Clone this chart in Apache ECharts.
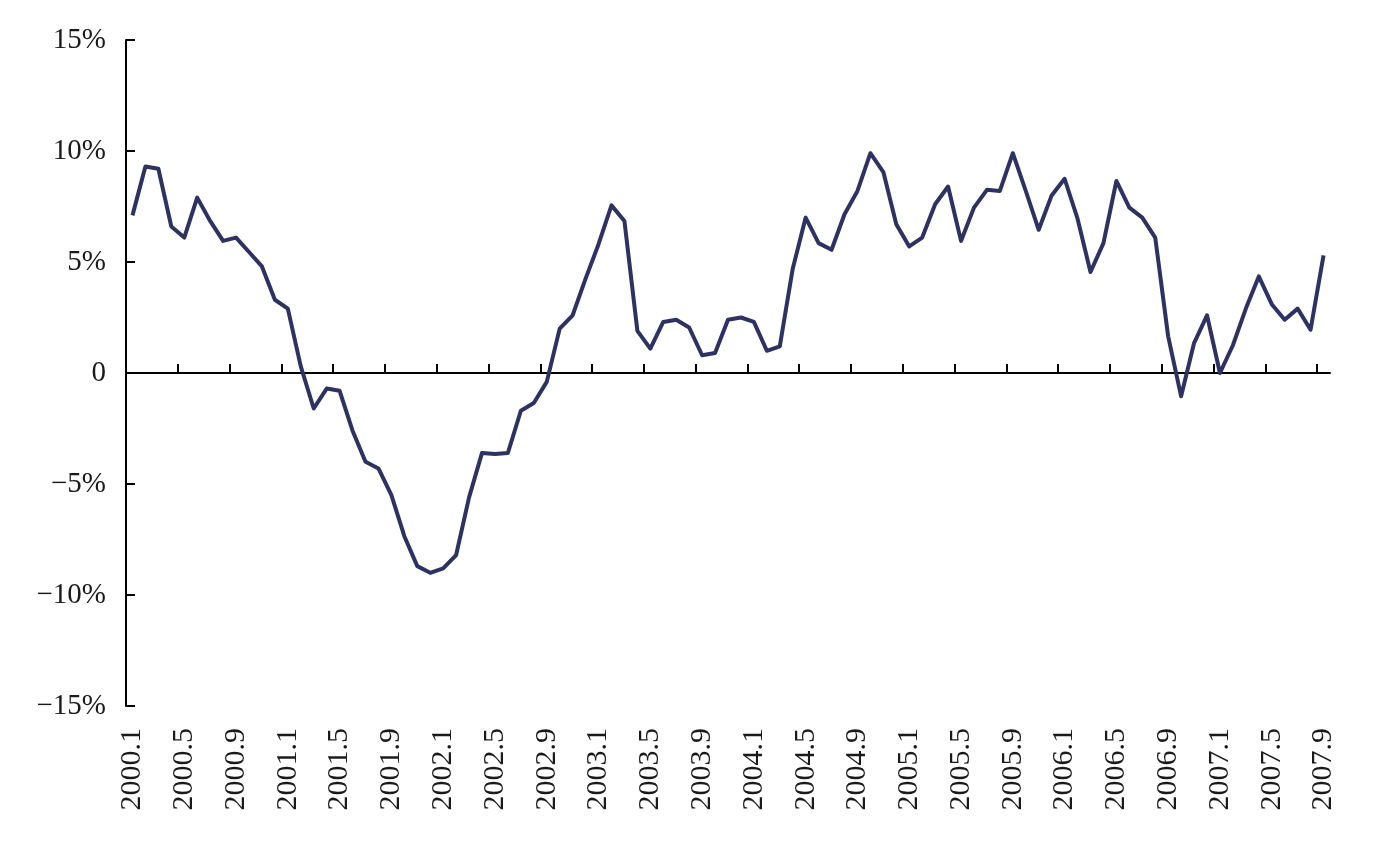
<!DOCTYPE html>
<html>
<head>
<meta charset="utf-8">
<script src="https://cdn.jsdelivr.net/npm/echarts@6/dist/echarts.min.js"></script>
<style>
html,body{margin:0;padding:0;background:#fff;}
#chart{width:1382px;height:845px;}
</style>
</head>
<body>
<div id="chart"></div>
<script>
// Monthly categories 2000.1 – 2007.9
const startYear = 2000;
const monthCount = 93;
const categories = [];
for (let i = 0; i < monthCount; i++) {
  categories.push((startYear + Math.floor(i / 12)) + '.' + (i % 12 + 1));
}
// Band boundaries between months (used only to place the axis tick marks)
const boundaries = [];
for (let i = 0; i <= monthCount; i++) boundaries.push('b' + i);

// Growth rate (%)
const values = [
  7.1, 9.3, 9.2, 6.6, 6.1, 7.9, 6.85, 5.95, 6.1, 5.45, 4.8, 3.3,
  2.9, 0.3, -1.6, -0.7, -0.8, -2.6, -4.0, -4.3, -5.5, -7.35, -8.7, -9.0,
  -8.8, -8.2, -5.6, -3.6, -3.65, -3.6, -1.7, -1.35, -0.4, 2.0, 2.6, 4.25,
  5.8, 7.55, 6.85, 1.9, 1.1, 2.3, 2.4, 2.05, 0.8, 0.9, 2.4, 2.5,
  2.3, 1.0, 1.2, 4.7, 7.0, 5.85, 5.55, 7.15, 8.2, 9.9, 9.05, 6.7,
  5.7, 6.1, 7.6, 8.4, 5.95, 7.45, 8.25, 8.2, 9.9, 8.2, 6.45, 8.0,
  8.75, 6.95, 4.55, 5.85, 8.65, 7.45, 7.0, 6.1, 1.65, -1.05, 1.35, 2.6,
  0.0, 1.25, 2.9, 4.35, 3.1, 2.4, 2.9, 1.95, 5.3
];
const yTicks = [-15, -10, -5, 0, 5, 10, 15];

const font = '"Liberation Serif", "Times New Roman", serif';
const chart = echarts.init(document.getElementById('chart'));
chart.setOption({
  animation: false,
  backgroundColor: '#ffffff',
  grid: { left: 126, right: 52, top: 40, bottom: 139, containLabel: false },
  xAxis: [
    {
      type: 'category',
      data: categories,
      boundaryGap: true,
      position: 'bottom',
      axisLine: { show: false, onZero: false },
      axisTick: { show: false },
      axisLabel: {
        show: true, interval: 3, rotate: 90, margin: 22,
        fontFamily: font, fontSize: 30, color: '#1a1a1a'
      },
      splitLine: { show: false }
    },
    {
      type: 'category',
      data: boundaries,
      boundaryGap: false,
      position: 'bottom',
      axisLine: { show: true, onZero: true, lineStyle: { color: '#000', width: 2 } },
      axisTick: { show: true, inside: true, length: 9, interval: 3, lineStyle: { color: '#000', width: 2 } },
      axisLabel: { show: false },
      splitLine: { show: false }
    }
  ],
  yAxis: {
    type: 'value',
    min: yTicks[0],
    max: yTicks[yTicks.length - 1],
    interval: 5,
    axisLine: { show: true, lineStyle: { color: '#000', width: 2 } },
    axisTick: { show: true, inside: true, length: 9, lineStyle: { color: '#000', width: 2 } },
    axisLabel: {
      margin: 20, fontFamily: font, fontSize: 29, color: '#1a1a1a',
      formatter: function (v) {
        if (v === 0) return '0';
        return (v < 0 ? '\u2212' + Math.abs(v) : v) + '%';
      }
    },
    splitLine: { show: false }
  },
  series: [{
    type: 'line',
    xAxisIndex: 0,
    data: values,
    showSymbol: false,
    lineStyle: { color: '#2e3262', width: 4, join: 'round' },
    itemStyle: { color: '#2e3262' }
  }]
});
</script>
</body>
</html>
